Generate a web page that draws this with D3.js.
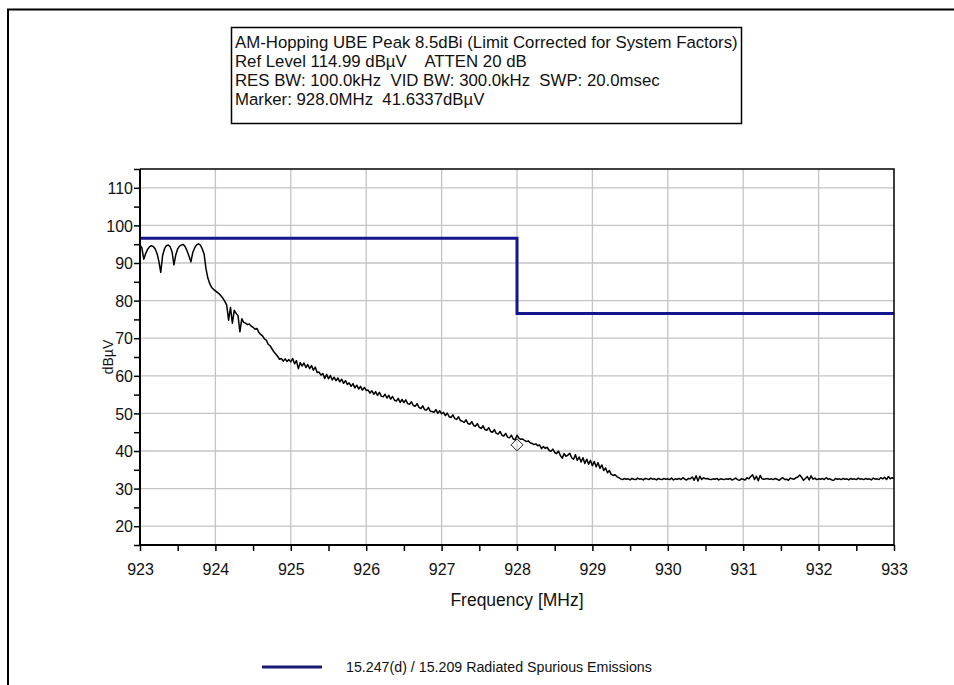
<!DOCTYPE html>
<html>
<head>
<meta charset="utf-8">
<script src="https://cdn.jsdelivr.net/npm/d3@7"></script>
<style>
  body { margin: 0; background: #fff; }
  text { font-family: "Liberation Sans", Arial, sans-serif; white-space: pre; fill: #111; }
</style>
</head>
<body>
<svg id="chart" width="954" height="685"></svg>
<script>
// Sweep settings (MHz)
const sweepStart = 923.0;
const sweepStop = 933.0;

// Measured peak trace, dBµV, one value per sweep point (923.000 .. 933.000 MHz)
const traceLevels = [
  // 923.000 - 923.875
  94.8, 94.0, 91.0, 92.5, 93.6, 94.3, 94.6, 94.4, 93.8, 92.6,
  90.5, 87.5, 92.0, 93.8, 94.6, 94.8, 94.3, 93.0, 89.5, 92.2,
  93.8, 94.5, 94.8, 94.9, 94.3, 93.2, 91.8, 90.3, 92.8, 94.0,
  94.8, 95.1, 94.8, 93.8, 92.4, 88.5,
  // 923.900 - 924.000
  86.0, 84.5, 83.5, 83.0, 82.6,
  // 924.025 - 925.000
  82.2, 81.8, 81.2, 80.6, 79.8, 78.8, 74.8, 78.2, 74.0, 77.4,
  76.6, 76.0, 71.7, 75.2, 74.2, 74.0, 73.6, 73.8, 73.2, 72.9,
  72.4, 72.6, 71.6, 71.0, 70.6, 69.8, 69.5, 68.4, 68.0, 67.2,
  66.4, 65.8, 65.2, 64.4, 64.6, 63.9, 64.5, 63.8, 64.3, 63.7,
  // 925.025 - 926.000
  64.6, 63.2, 64.0, 61.9, 63.5, 62.6, 63.4, 62.2, 63.0, 61.9,
  62.7, 61.5, 62.3, 60.9, 61.0, 60.2, 60.6, 59.3, 60.4, 59.2,
  60.1, 58.9, 59.6, 58.7, 59.4, 58.4, 59.1, 58.0, 58.7, 57.7,
  58.1, 57.2, 57.9, 56.8, 57.5, 56.5, 57.2, 56.2, 56.9, 56.1,
  // 926.025 - 926.475
  56.2, 55.4, 56.0, 55.1, 55.8, 54.8, 55.6, 54.6, 54.4, 55.1,
  54.1, 54.8, 53.8, 54.5, 53.5, 53.3, 54.0, 52.9, 53.7,
  // 926.500 - 928.000
  52.9, 53.6, 52.6, 52.4, 53.1, 52.1, 51.9, 52.6, 51.6, 51.3,
  52.0, 51.0, 50.9, 51.6, 50.6, 50.5, 50.3, 51.0, 50.0, 50.7,
  49.9, 50.3, 49.4, 50.1, 49.1, 48.9, 49.6, 48.6, 48.4, 49.1,
  48.1, 47.9, 47.6, 48.3, 47.3, 47.1, 47.8, 46.8, 46.6, 47.3,
  46.3, 46.0, 46.7, 45.7, 45.5, 46.2, 45.2, 45.0, 45.7, 44.7,
  44.5, 45.2, 44.2, 44.0, 44.7, 43.7, 43.5, 44.2, 43.2, 43.0,
  44.2,
  // 928.025 - 929.350
  43.4, 43.1, 43.2, 42.8, 42.5, 42.7, 42.2, 42.0, 41.7, 41.9,
  41.4, 41.6, 40.6, 41.2, 40.7, 41.0, 40.2, 39.9, 40.5, 39.6,
  39.3, 40.0, 38.8, 38.1, 39.3, 38.6, 38.9, 39.4, 38.2, 37.8,
  39.0, 37.5, 38.4, 37.1, 38.2, 36.7, 37.8, 36.5, 37.5, 36.1,
  37.2, 35.8, 36.9, 35.4, 36.3, 34.8, 35.5, 34.2, 34.8, 33.8,
  33.5, 33.7, 33.2, 32.9,
  // 929.375 - 933.000 (noise floor)
  32.6, 32.4, 32.7, 32.5, 32.6, 32.3, 32.7, 32.5, 32.4, 32.8,
  32.5, 32.6, 32.3, 32.7, 32.6, 32.4, 32.8, 32.5, 32.6, 32.3,
  32.7, 32.5, 32.4, 32.7, 32.5, 32.6, 32.4, 32.8, 32.3, 32.6,
  32.5, 32.7, 32.4, 32.9, 32.5, 32.3, 32.7, 32.6, 33.1, 32.2,
  33.4, 32.0, 33.3, 32.4, 32.9, 32.6, 32.7, 32.5, 32.4, 32.6,
  32.5, 32.7, 32.3, 32.6, 32.5, 32.4, 32.6, 32.5, 32.7, 32.3,
  32.5, 32.8, 32.4, 32.2, 32.6, 32.5, 32.3, 32.9, 32.6, 33.2,
  33.7, 32.4, 33.3, 32.1, 33.5, 32.6, 32.5, 32.6, 32.6, 32.5,
  32.6, 32.4, 32.7, 32.5, 32.2, 32.6, 32.9, 32.4, 32.5, 32.2,
  32.8, 32.6, 32.5, 32.9, 33.1, 33.6, 33.0, 32.2, 32.7, 33.2,
  32.3, 33.4, 32.5, 32.8, 32.4, 32.6, 32.5, 32.7, 32.4, 32.9,
  32.5, 32.6, 32.3, 32.2, 32.7, 32.5, 32.6, 32.4, 32.7, 32.5,
  32.6, 32.3, 32.7, 32.5, 32.6, 32.4, 32.8, 32.5, 32.6, 32.4,
  32.7, 32.5, 32.6, 32.3, 32.8, 32.5, 32.6, 32.4, 32.9, 32.6,
  33.0, 32.4, 33.2, 32.6, 32.9, 32.7
];

// Limit line breakpoints (frequency MHz, level dBµV), drawn as steps
const limitFreqs = [923.0, 928.0, 933.0];
const limitLevels = [96.6, 76.6, 76.6];

// Marker
const markerFreq = 928.0;
const markerLevel = 41.6337;

// Axis tick labels
const xTickLabels = [923, 924, 925, 926, 927, 928, 929, 930, 931, 932, 933];
const yTickLabels = [20, 30, 40, 50, 60, 70, 80, 90, 100, 110];

// Header text
const headerLines = [
  "AM-Hopping UBE Peak 8.5dBi (Limit Corrected for System Factors)",
  "Ref Level 114.99 dB\u00B5V    ATTEN 20 dB",
  "RES BW: 100.0kHz  VID BW: 300.0kHz  SWP: 20.0msec",
  "Marker: 928.0MHz  41.6337dB\u00B5V"
];
const legendLabel = "15.247(d) / 15.209 Radiated Spurious Emissions";

const svg = d3.select("#chart");
const W = 954, H = 685;
const plot = { left: 140, right: 894, top: 169, bottom: 545 };

const x = d3.scaleLinear().domain([sweepStart, sweepStop]).range([plot.left, plot.right]);
const y = d3.scaleLinear().domain([15, 115]).range([plot.bottom, plot.top]);

svg.append("rect").attr("width", W).attr("height", H).attr("fill", "#fff");

// Outer window frame
svg.append("path")
  .attr("d", `M8,${H} V9.5 H${W}`)
  .attr("fill", "none").attr("stroke", "#000").attr("stroke-width", 2);

// Header box
const box = svg.append("g");
box.append("rect")
  .attr("x", 231.5).attr("y", 27.5).attr("width", 510).attr("height", 96)
  .attr("fill", "#fff").attr("stroke", "#000").attr("stroke-width", 1.5);
const headerText = box.selectAll("text.hdr").data(headerLines).join("text")
  .attr("class", "hdr")
  .attr("x", 235)
  .attr("y", (d, i) => 48 + i * 19)
  .attr("font-size", 14)
  .text(d => d);
// size the header font so the first line spans the box
const w0 = headerText.nodes()[0].getComputedTextLength();
headerText.attr("font-size", 14 * 503 / w0);

// Gridlines
const grid = svg.append("g").attr("stroke", "#c4c4c4").attr("stroke-width", 1.3);
grid.selectAll("line.v").data(xTickLabels.slice(1, -1)).join("line")
  .attr("x1", d => x(d)).attr("x2", d => x(d))
  .attr("y1", plot.top).attr("y2", plot.bottom);
grid.selectAll("line.h").data(yTickLabels).join("line")
  .attr("x1", plot.left).attr("x2", plot.right)
  .attr("y1", d => y(d)).attr("y2", d => y(d));

// Limit line
const limitData = limitFreqs.map((f, i) => [f, limitLevels[i]]);
svg.append("path")
  .datum(limitData)
  .attr("fill", "none")
  .attr("stroke", "#15158f")
  .attr("stroke-width", 3)
  .attr("d", d3.line().x(d => x(d[0])).y(d => y(d[1])).curve(d3.curveStepAfter));

// Trace
const step = (sweepStop - sweepStart) / (traceLevels.length - 1);
svg.append("path")
  .datum(traceLevels)
  .attr("fill", "none")
  .attr("stroke", "#000")
  .attr("stroke-width", 1.5)
  .attr("stroke-linejoin", "round")
  .attr("d", d3.line().x((d, i) => x(sweepStart + i * step)).y(d => y(d)));

// Marker diamond
const mx = x(markerFreq), my = y(markerLevel);
svg.append("path")
  .attr("d", `M${mx},${my - 6} L${mx + 6},${my} L${mx},${my + 6} L${mx - 6},${my} Z`)
  .attr("fill", "none").attr("stroke", "#222").attr("stroke-width", 1);

// Axes
const xAxis = d3.axisBottom(x)
  .tickValues(d3.range(sweepStart, sweepStop + 0.01, 0.5))
  .tickSize(6)
  .tickFormat(d => Number.isInteger(d) ? d3.format("d")(d) : "");
const gx = svg.append("g").attr("transform", `translate(0,${plot.bottom})`).call(xAxis);
gx.select(".domain").attr("stroke-width", 2).attr("d", `M${plot.left},0 H${plot.right}`);
gx.selectAll(".tick line").attr("stroke-width", 1.5);
gx.selectAll(".tick text").attr("font-size", 16).attr("dy", 0).attr("y", 30)
  .attr("font-family", "Liberation Sans, Arial, sans-serif").attr("fill", "#111");

const yAxis = d3.axisLeft(y)
  .tickValues(d3.range(15, 115.01, 5))
  .tickSize(6)
  .tickFormat(d => yTickLabels.includes(d) ? d3.format("d")(d) : "");
const gy = svg.append("g").attr("transform", `translate(${plot.left},0)`).call(yAxis);
gy.select(".domain").attr("stroke-width", 2).attr("d", `M0,${plot.bottom} V${plot.top}`);
gy.selectAll(".tick line").attr("stroke-width", 1.5);
gy.selectAll(".tick text").attr("font-size", 16).attr("x", -7).attr("dy", "0.36em")
  .attr("font-family", "Liberation Sans, Arial, sans-serif").attr("fill", "#111");

// Top and right border of the plot
svg.append("path")
  .attr("d", `M${plot.left},${plot.top} H${plot.right} V${plot.bottom}`)
  .attr("fill", "none").attr("stroke", "#000").attr("stroke-width", 1.5);

// Axis titles
svg.append("text")
  .attr("x", (plot.left + plot.right) / 2).attr("y", 606)
  .attr("text-anchor", "middle").attr("font-size", 17.5)
  .text("Frequency [MHz]");
svg.append("text")
  .attr("transform", `translate(113,357) rotate(-90)`)
  .attr("text-anchor", "middle").attr("font-size", 14)
  .text("dB\u00B5V");

// Legend
svg.append("line")
  .attr("x1", 262).attr("x2", 322).attr("y1", 667).attr("y2", 667)
  .attr("stroke", "#1a1a75").attr("stroke-width", 3);
const legendText = svg.append("text")
  .attr("x", 346).attr("y", 672).attr("font-size", 14)
  .text(legendLabel);
const lw = legendText.node().getComputedTextLength();
legendText.attr("font-size", 14 * 306 / lw);
</script>
</body>
</html>
